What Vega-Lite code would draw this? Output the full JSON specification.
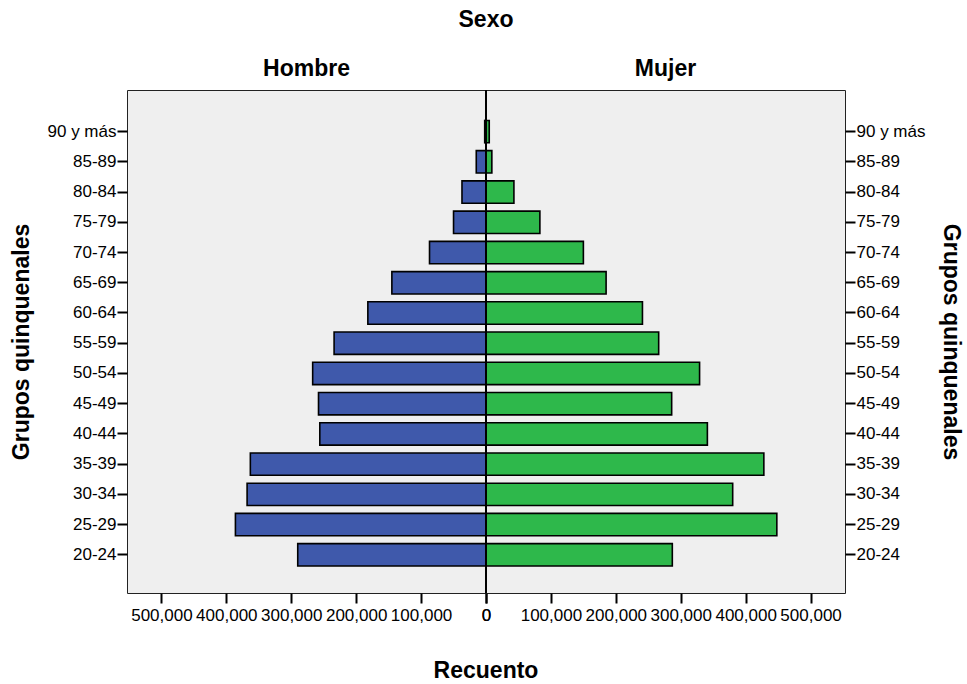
{
  "$schema": "https://vega.github.io/schema/vega-lite/v6.json",
  "background": "white",
  "padding": {"left": 9, "top": 8, "right": 5, "bottom": 5},
  "config": {
    "font": "Liberation Sans",
    "view": {"fill": "#efefef", "stroke": "#222222", "strokeWidth": 1},
    "axis": {"labelFont": "Liberation Sans", "labelFontSize": 17, "labelColor": "#000", "tickColor": "#000", "tickWidth": 2, "tickSize": 10, "domain": false, "grid": false, "titleFont": "Liberation Sans", "titleFontSize": 23, "titleFontWeight": "bold", "titleColor": "#000"},
    "title": {"font": "Liberation Sans", "fontSize": 23, "fontWeight": "bold", "color": "#000"}
  },
  "datasets": {
    "hombre": [
      {"grupo": "90 y más", "recuento": 2000},
      {"grupo": "85-89", "recuento": 15000},
      {"grupo": "80-84", "recuento": 37000},
      {"grupo": "75-79", "recuento": 50000},
      {"grupo": "70-74", "recuento": 87000},
      {"grupo": "65-69", "recuento": 145000},
      {"grupo": "60-64", "recuento": 182000},
      {"grupo": "55-59", "recuento": 234000},
      {"grupo": "50-54", "recuento": 267000},
      {"grupo": "45-49", "recuento": 258000},
      {"grupo": "40-44", "recuento": 256000},
      {"grupo": "35-39", "recuento": 363000},
      {"grupo": "30-34", "recuento": 368000},
      {"grupo": "25-29", "recuento": 386000},
      {"grupo": "20-24", "recuento": 290000}
    ],
    "mujer": [
      {"grupo": "90 y más", "recuento": 5000},
      {"grupo": "85-89", "recuento": 9000},
      {"grupo": "80-84", "recuento": 43000},
      {"grupo": "75-79", "recuento": 83000},
      {"grupo": "70-74", "recuento": 150000},
      {"grupo": "65-69", "recuento": 185000},
      {"grupo": "60-64", "recuento": 241000},
      {"grupo": "55-59", "recuento": 266000},
      {"grupo": "50-54", "recuento": 329000},
      {"grupo": "45-49", "recuento": 286000},
      {"grupo": "40-44", "recuento": 341000},
      {"grupo": "35-39", "recuento": 428000},
      {"grupo": "30-34", "recuento": 380000},
      {"grupo": "25-29", "recuento": 448000},
      {"grupo": "20-24", "recuento": 287000}
    ]
  },
  "title": {"text": "Sexo", "anchor": "middle", "offset": 26},
  "vconcat": [
    {
      "title": {"text": "Recuento", "orient": "bottom", "anchor": "middle", "offset": 36},
      "spacing": 0,
      "bounds": "flush",
      "hconcat": [
        {
          "title": {"text": "Hombre", "anchor": "middle", "offset": 8},
          "width": 359,
          "height": 503,
          "data": {"name": "hombre"},
          "layer": [
            {
              "mark": {"type": "bar", "color": "#3f59ab", "stroke": "#000", "strokeWidth": 1.6},
              "encoding": {
                "y": {"field": "grupo", "type": "nominal", "sort": null,
                  "scale": {"paddingInner": 0.26, "paddingOuter": 0.95, "align": 0.53},
                  "axis": {"orient": "left", "title": "Grupos quinquenales", "titlePadding": 14, "labelPadding": 1}},
                "x": {"field": "recuento", "type": "quantitative",
                  "scale": {"domain": [0, 553000], "reverse": true, "nice": false},
                  "axis": {"title": null, "values": [0, 100000, 200000, 300000, 400000, 500000], "format": ",d", "labelFlush": false, "labelOverlap": false, "labelPadding": 4}}
              }
            },
            {
              "mark": {"type": "rule", "color": "#000", "strokeWidth": 2},
              "encoding": {"x": {"datum": 0}}
            }
          ]
        },
        {
          "title": {"text": "Mujer", "anchor": "middle", "offset": 8},
          "width": 359,
          "height": 503,
          "data": {"name": "mujer"},
          "layer": [
            {
              "mark": {"type": "bar", "color": "#2eb84b", "stroke": "#000", "strokeWidth": 1.6},
              "encoding": {
                "y": {"field": "grupo", "type": "nominal", "sort": null,
                  "scale": {"paddingInner": 0.26, "paddingOuter": 0.95, "align": 0.53},
                  "axis": {"orient": "right", "title": "Grupos quinquenales", "titlePadding": 14, "labelPadding": 1}},
                "x": {"field": "recuento", "type": "quantitative",
                  "scale": {"domain": [0, 553000], "nice": false},
                  "axis": {"title": null, "values": [0, 100000, 200000, 300000, 400000, 500000], "format": ",d", "labelFlush": false, "labelOverlap": false, "labelPadding": 4}}
              }
            },
            {
              "mark": {"type": "rule", "color": "#000", "strokeWidth": 2},
              "encoding": {"x": {"datum": 0}}
            }
          ]
        }
      ]
    }
  ]
}
